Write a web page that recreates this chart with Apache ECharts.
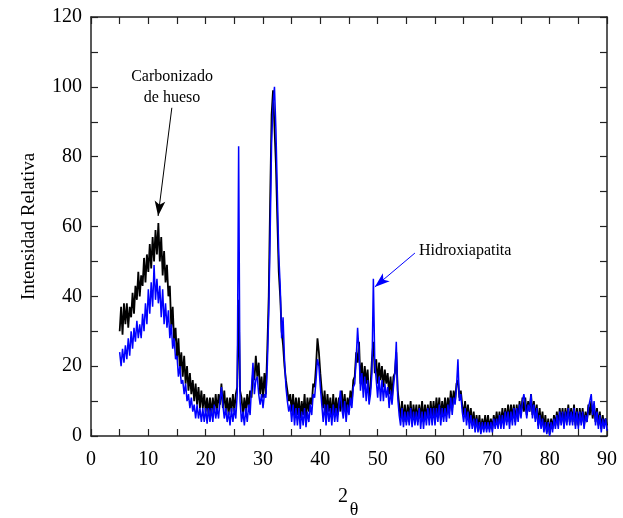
<!DOCTYPE html>
<html>
<head>
<meta charset="utf-8">
<script src="https://cdn.jsdelivr.net/npm/echarts@6/dist/echarts.min.js"></script>
<style>
  html, body { margin: 0; padding: 0; background: #fff; }
  #main { width: 623px; height: 518px; }
</style>
</head>
<body>
<div id="main"></div>
<script>
// scan grid: 5 to 90 degrees, step 0.25
var scanStart = 5, scanStep = 0.25;

// Carbonizado de hueso (black)
var hueso = [
  30, 37, 29, 38,  32, 38, 31, 37,  34, 41, 35, 43,  39, 47, 40, 46,
  43, 51, 44, 52,  47, 55, 48, 57,  50, 59, 52, 61,  50, 57, 46, 53,
  44, 49, 40, 43,  31, 37, 27, 31,  22, 28, 19, 24,  17, 23, 15, 20,
  13, 18, 12, 16,  10, 15, 9, 14,   8, 13, 8, 12,    7, 11, 6, 11,
  6, 11, 7, 12,    7, 12, 9, 15,    8, 13, 7, 11,    6, 11, 7, 12,
  7, 12, 14, 39,   13, 11, 6, 11,   7, 12, 8, 13,    11, 18, 16, 23,
  17, 21, 12, 17,  11, 18, 12, 25,  40, 68, 92, 99,  99, 78, 62, 47,
  40, 30, 26, 20,  16, 13, 10, 12,  7, 12, 6, 11,    6, 11, 5, 10,
  6, 12, 5, 11,    7, 11, 9, 15,    14, 20, 28, 24,  18, 13, 8, 13,
  6, 12, 7, 11,    5, 12, 6, 11,    6, 11, 7, 13,    7, 12, 6, 11,
  8, 13, 10, 16,   17, 24, 21, 27,  15, 21, 14, 20,  15, 19, 11, 14,
  22, 27, 18, 22,  15, 21, 16, 20,  14, 19, 15, 18,  12, 17, 11, 17,
  18, 24, 13, 9,   5, 10, 4, 9,     4, 9, 5, 10,     4, 9, 5, 9,
  4, 9, 5, 10,     4, 9, 5, 9,      5, 10, 5, 10,    5, 11, 6, 11,
  5, 10, 6, 11,    6, 11, 7, 13,    8, 13, 10, 15,   16, 11, 13, 9,
  6, 10, 5, 9,     4, 8, 3, 7,      2, 6, 2, 6,      1, 5, 2, 6,
  2, 6, 2, 5,      2, 6, 3, 7,      3, 7, 3, 8,      4, 8, 4, 9,
  4, 9, 5, 9,      4, 9, 5, 10,     6, 11, 7, 11,    6, 10, 7, 12,
  6, 10, 5, 9,     3, 8, 3, 7,      2, 6, 1, 5,      0.5, 5, 2, 6,
  3, 7, 3, 8,      4, 8, 3, 8,      4, 9, 4, 8,      4, 9, 3, 8,
  3, 8, 4, 8,      3, 7, 4, 9,      6, 10, 5, 9,     4, 8, 3, 7,
  2, 6, 3, 5,      3
];

// Hidroxiapatita (blue)
var hidroxi = [
  24, 20, 25, 21,  26, 22, 28, 23,  30, 25, 31, 27,  33, 28, 32, 28,
  35, 30, 38, 32,  42, 35, 44, 37,  49, 39, 45, 38,  43, 34, 42, 32,
  38, 31, 36, 28,  32, 25, 28, 22,  23, 17, 20, 15,  16, 12, 15, 10,
  12, 8, 11, 7,    9, 5, 9, 5,      8, 4, 8, 4,      8, 3.5, 8, 4,
  8, 4, 9, 5,      8, 5, 10, 14,    9, 5, 8, 4,      7, 3, 8, 4,
  8, 5, 12, 83,    10, 4, 7, 3,     8, 4, 9, 6,      14, 21, 12, 16,
  17, 12, 9, 12,   8, 12, 11, 20,   35, 58, 84, 95,  100, 88, 70, 52,
  43, 28, 34, 22,  14, 10, 7, 9,    4, 9, 3, 8,      3, 8, 2, 7,
  3, 8, 2.5, 7,    4, 9, 6, 12,     11, 16, 22, 20,  14, 9, 4, 9,
  3, 9, 4, 8,      3, 9, 4, 8,      4, 9, 13, 8,     5, 10, 4, 9,
  6, 11, 8, 14,    15, 22, 31, 24,  13, 18, 11, 17,  10, 16, 9, 12,
  18, 45, 21, 16,  11, 17, 10, 16,  10, 15, 11, 14,  8, 13, 9, 14,
  18, 27, 11, 6,   3, 8, 2.5, 7,    3, 7, 3, 8,      2.5, 7, 3, 7,
  3, 8, 2, 7,      2, 7, 3, 8,      3, 8, 3, 8,      3, 8, 4, 9,
  3, 8, 4, 8,      4, 9, 5, 11,     6, 11, 9, 14,    22, 10, 12, 7,
  4, 8, 3, 7,      2, 6, 2, 5,      1, 5, 1, 4,      0.5, 4, 1, 4,
  1, 4, 1, 4,      1, 5, 2, 5,      2, 6, 2, 6,      2, 7, 3, 7,
  2, 7, 3, 8,      3, 8, 4, 9,      5, 10, 12, 9,    5, 9, 7, 12,
  5, 9, 4, 8,      2, 6, 2, 5,      1, 4, 0.5, 4,    0, 4, 1, 5,
  2, 6, 2, 7,      3, 7, 2, 7,      3, 8, 3, 7,      3, 8, 2, 7,
  2, 7, 3, 7,      2, 6, 4, 8,      8, 12, 6, 10,    3, 7, 2, 6,
  1, 5, 2, 5,      1.5
];

// annotation arrows: [start, tip] in data units
var huesoArrow = [[14.1, 94], [11.7, 63]];
var hidroxiArrow = [[56.5, 52.4], [49.5, 42.7]];

function pairs(vals) {
  var out = [];
  for (var i = 0; i < vals.length; i++) {
    out.push([scanStart + i * scanStep, vals[i]]);
  }
  return out;
}

var myChart = echarts.init(document.getElementById('main'));

var serif = '"Liberation Serif", "DejaVu Serif", serif';
var frameColor = '#222';

// onZero off so the top/right copies stay on the frame edges
function axisBase(showLabel) {
  return {
    type: 'value',
    axisLine: { show: true, onZero: false, lineStyle: { color: frameColor, width: 1.5 } },
    axisTick: { show: true, inside: true, length: 7, lineStyle: { color: frameColor, width: 1.2 } },
    minorTick: { show: true, splitNumber: 2, length: 7, lineStyle: { color: frameColor, width: 1.2 } },
    splitLine: { show: false },
    minorSplitLine: { show: false },
    axisLabel: { show: showLabel, color: '#000', fontFamily: serif, fontSize: 20 }
  };
}

var xBottom = axisBase(true);
xBottom.min = 0; xBottom.max = 90; xBottom.interval = 10; xBottom.position = 'bottom';
xBottom.axisLabel.margin = 14;
var xTop = axisBase(false);
xTop.min = 0; xTop.max = 90; xTop.interval = 10; xTop.position = 'top';

var yLeft = axisBase(true);
yLeft.min = 0; yLeft.max = 120; yLeft.interval = 20; yLeft.position = 'left';
yLeft.axisLabel.margin = 9;
yLeft.name = 'Intensidad Relativa';
yLeft.nameLocation = 'middle';
yLeft.nameGap = 52;
yLeft.nameTextStyle = { color: '#000', fontFamily: serif, fontSize: 19 };
var yRight = axisBase(false);
yRight.min = 0; yRight.max = 120; yRight.interval = 20; yRight.position = 'right';

function arrowLine(pts, color) {
  return {
    silent: true,
    animation: false,
    symbol: ['none', 'arrow'],
    symbolSize: [8, 15],
    label: { show: false },
    lineStyle: { color: color, width: 1, type: 'solid' },
    data: [[{ coord: pts[0] }, { coord: pts[1] }]]
  };
}

var option = {
  animation: false,
  backgroundColor: '#fff',
  grid: { left: 91, right: 16, top: 17, bottom: 82 },
  xAxis: [xBottom, xTop],
  yAxis: [yLeft, yRight],
  graphic: [
    { type: 'text', x: 172, y: 77, style: { text: 'Carbonizado', font: '16px ' + serif, fill: '#000', align: 'center', verticalAlign: 'middle' } },
    { type: 'text', x: 172, y: 98, style: { text: 'de hueso', font: '16px ' + serif, fill: '#000', align: 'center', verticalAlign: 'middle' } },
    { type: 'text', x: 419, y: 251, style: { text: 'Hidroxiapatita', font: '16px ' + serif, fill: '#000', align: 'left', verticalAlign: 'middle' } },
    { type: 'text', x: 343, y: 497, style: { text: '2', font: '20px ' + serif, fill: '#000', align: 'center', verticalAlign: 'middle' } },
    { type: 'text', x: 354, y: 510, style: { text: 'θ', font: '18px ' + serif, fill: '#000', align: 'center', verticalAlign: 'middle' } }
  ],
  series: [
    {
      name: 'Carbonizado de hueso',
      type: 'line',
      showSymbol: false,
      xAxisIndex: 0, yAxisIndex: 0,
      lineStyle: { color: '#000', width: 1.8 },
      itemStyle: { color: '#000' },
      data: pairs(hueso),
      markLine: arrowLine(huesoArrow, '#000')
    },
    {
      name: 'Hidroxiapatita',
      type: 'line',
      showSymbol: false,
      xAxisIndex: 0, yAxisIndex: 0,
      lineStyle: { color: '#0000ff', width: 1.5 },
      itemStyle: { color: '#0000ff' },
      data: pairs(hidroxi),
      markLine: arrowLine(hidroxiArrow, '#0000ff')
    }
  ]
};

myChart.setOption(option);
</script>
</body>
</html>
